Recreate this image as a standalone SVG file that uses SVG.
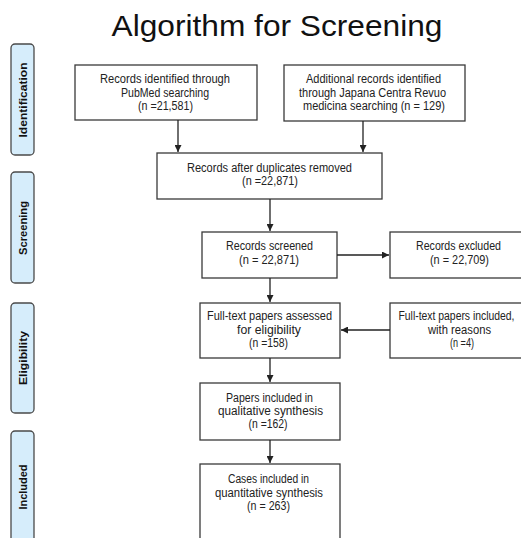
<svg xmlns="http://www.w3.org/2000/svg" width="521" height="538" viewBox="0 0 521 538">
<defs>
<marker id="ah" viewBox="0 0 8 8" refX="8" refY="4" markerWidth="7" markerHeight="7" markerUnits="userSpaceOnUse" orient="auto">
<path d="M0,0 L8,4 L0,8 z" fill="#222"/>
</marker>
<style>
.bx{fill:#fff;stroke:#3a3a3a;stroke-width:1.3}
.ph{fill:#d6edfb;stroke:#4a4a4a;stroke-width:1.3}
.t{font-family:"Liberation Sans",Arial,sans-serif;font-size:12px;fill:#222;text-anchor:middle}
.pt{font-family:"Liberation Sans",Arial,sans-serif;font-size:11.5px;font-weight:bold;fill:#111;text-anchor:middle}
.ln{stroke:#222;stroke-width:1.3;fill:none;marker-end:url(#ah)}
</style>
</defs>
<rect width="521" height="538" fill="#fff"/>
<text x="277" y="36" font-family="'Liberation Sans',Arial,sans-serif" font-size="30" fill="#111" text-anchor="middle" textLength="331" lengthAdjust="spacingAndGlyphs">Algorithm for Screening</text>

<g id="phase-identification"><rect class="ph" x="11" y="44" width="23" height="111" rx="4"/><text class="pt" transform="translate(27,100) rotate(-90)" textLength="75" lengthAdjust="spacingAndGlyphs">Identification</text></g>
<g id="phase-screening"><rect class="ph" x="11" y="172" width="23" height="111" rx="4"/><text class="pt" transform="translate(27,228) rotate(-90)" textLength="54" lengthAdjust="spacingAndGlyphs">Screening</text></g>
<g id="phase-eligibility"><rect class="ph" x="11" y="303" width="23" height="110" rx="4"/><text class="pt" transform="translate(27,358) rotate(-90)" textLength="54" lengthAdjust="spacingAndGlyphs">Eligibility</text></g>
<g id="phase-included"><rect class="ph" x="11" y="431" width="23" height="115" rx="4"/><text class="pt" transform="translate(27,487) rotate(-90)" textLength="45" lengthAdjust="spacingAndGlyphs">Included</text></g>

<g id="pubmed"><rect class="bx" x="75" y="65" width="182" height="55"/>
<text class="t" x="165" y="83" textLength="130" lengthAdjust="spacingAndGlyphs">Records identified through</text>
<text class="t" x="165" y="97" textLength="88" lengthAdjust="spacingAndGlyphs">PubMed searching</text>
<text class="t" x="165.5" y="110" textLength="55" lengthAdjust="spacingAndGlyphs">(n =21,581)</text></g>

<g id="japana"><rect class="bx" x="284" y="65" width="181" height="56"/>
<text class="t" x="373.5" y="83" textLength="135" lengthAdjust="spacingAndGlyphs">Additional records identified</text>
<text class="t" x="372.5" y="97" textLength="147" lengthAdjust="spacingAndGlyphs">through Japana Centra Revuo</text>
<text class="t" x="374" y="110" textLength="142" lengthAdjust="spacingAndGlyphs">medicina searching (n = 129)</text></g>

<g id="dedup"><rect class="bx" x="157" y="153" width="225" height="46"/>
<text class="t" x="269.5" y="172" textLength="165" lengthAdjust="spacingAndGlyphs">Records after duplicates removed</text>
<text class="t" x="270" y="185" textLength="56" lengthAdjust="spacingAndGlyphs">(n =22,871)</text></g>

<g id="screened"><rect class="bx" x="202" y="232" width="135" height="46"/>
<text class="t" x="269.5" y="250" textLength="87" lengthAdjust="spacingAndGlyphs">Records screened</text>
<text class="t" x="269" y="264" textLength="60" lengthAdjust="spacingAndGlyphs">(n = 22,871)</text></g>

<g id="excluded"><rect class="bx" x="390" y="232" width="140" height="46"/>
<text class="t" x="458.5" y="250" textLength="85" lengthAdjust="spacingAndGlyphs">Records excluded</text>
<text class="t" x="459.5" y="264" textLength="59" lengthAdjust="spacingAndGlyphs">(n = 22,709)</text></g>

<g id="assessed"><rect class="bx" x="200" y="303" width="140" height="55"/>
<text class="t" x="269.5" y="320" textLength="125" lengthAdjust="spacingAndGlyphs">Full-text papers assessed</text>
<text class="t" x="269" y="334" textLength="64" lengthAdjust="spacingAndGlyphs">for eligibility</text>
<text class="t" x="268.5" y="347" textLength="39" lengthAdjust="spacingAndGlyphs">(n =158)</text></g>

<g id="fulltext-reasons"><rect class="bx" x="390" y="303" width="140" height="55"/>
<text class="t" x="456.5" y="320" font-size="10.8" textLength="116" lengthAdjust="spacingAndGlyphs">Full-text papers included,</text>
<text class="t" x="459.5" y="334" textLength="63" lengthAdjust="spacingAndGlyphs">with reasons</text>
<text class="t" x="462" y="347" textLength="24" lengthAdjust="spacingAndGlyphs">(n =4)</text></g>

<g id="qualitative"><rect class="bx" x="200" y="383" width="140" height="57"/>
<text class="t" x="269.5" y="402" textLength="87" lengthAdjust="spacingAndGlyphs">Papers included in</text>
<text class="t" x="270.5" y="415" textLength="105" lengthAdjust="spacingAndGlyphs">qualitative synthesis</text>
<text class="t" x="268" y="428" textLength="39" lengthAdjust="spacingAndGlyphs">(n =162)</text></g>

<g id="quantitative"><rect class="bx" x="200" y="464" width="140" height="84"/>
<text class="t" x="268.5" y="483" textLength="81" lengthAdjust="spacingAndGlyphs">Cases included in</text>
<text class="t" x="269" y="497" textLength="108" lengthAdjust="spacingAndGlyphs">quantitative synthesis</text>
<text class="t" x="268.5" y="510" textLength="43" lengthAdjust="spacingAndGlyphs">(n = 263)</text></g>

<g id="connectors">
<line class="ln" x1="178" y1="120" x2="178" y2="152"/>
<line class="ln" x1="363" y1="121" x2="363" y2="152"/>
<line class="ln" x1="270" y1="199" x2="270" y2="231"/>
<line class="ln" x1="337" y1="255" x2="389" y2="255"/>
<line class="ln" x1="270" y1="278" x2="270" y2="302"/>
<line class="ln" x1="390" y1="330" x2="341" y2="330"/>
<line class="ln" x1="270" y1="358" x2="270" y2="382"/>
<line class="ln" x1="270" y1="440" x2="270" y2="463"/>
</g>
</svg>
